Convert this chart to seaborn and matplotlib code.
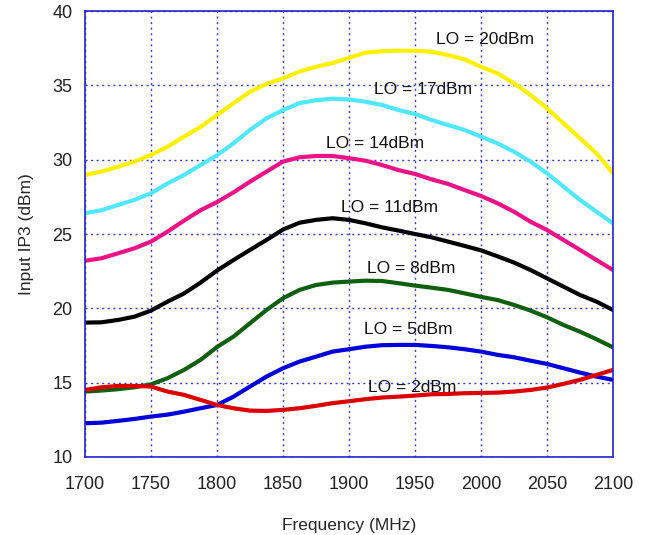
import pandas as pd
import seaborn as sns
import matplotlib.pyplot as plt

# frequency points, every 12.5 MHz
freq = [1700 + 12.5 * i for i in range(33)]

lo_20 = [28.97, 29.2, 29.53, 29.87, 30.32, 30.87, 31.55, 32.2, 33.0, 33.8, 34.57,
         35.1, 35.47, 35.92, 36.25, 36.5, 36.85, 37.2, 37.3, 37.33, 37.33, 37.26,
         37.04, 36.75, 36.25, 35.81, 35.14, 34.35, 33.46, 32.45, 31.44, 30.43, 29.09]
lo_17 = [26.4, 26.6, 26.95, 27.3, 27.74, 28.4, 28.97, 29.64, 30.3, 31.1, 32.0,
         32.78, 33.34, 33.8, 34.0, 34.1, 34.05, 33.9, 33.68, 33.34, 33.07, 32.67,
         32.33, 32.0, 31.55, 31.1, 30.54, 29.87, 29.09, 28.19, 27.29, 26.5, 25.72]
lo_14 = [23.2, 23.37, 23.7, 24.04, 24.49, 25.16, 25.9, 26.6, 27.15, 27.8, 28.52,
         29.2, 29.87, 30.16, 30.25, 30.25, 30.1, 29.93, 29.64, 29.3, 29.04, 28.68,
         28.37, 27.96, 27.56, 27.07, 26.5, 25.83, 25.27, 24.6, 23.93, 23.25, 22.58]
lo_11 = [19.04, 19.06, 19.22, 19.44, 19.85, 20.45, 21.0, 21.73, 22.54, 23.25, 23.93,
         24.6, 25.3, 25.76, 25.95, 26.06, 25.95, 25.72, 25.45, 25.23, 25.0, 24.78,
         24.49, 24.2, 23.9, 23.5, 23.08, 22.58, 22.02, 21.46, 20.9, 20.45, 19.89]
lo_8 = [14.4, 14.47, 14.56, 14.69, 14.89, 15.3, 15.86, 16.53, 17.4, 18.1, 19.0,
        19.89, 20.68, 21.24, 21.57, 21.73, 21.8, 21.86, 21.84, 21.69, 21.53, 21.39,
        21.24, 21.01, 20.77, 20.56, 20.23, 19.85, 19.4, 18.88, 18.43, 17.92, 17.38]
lo_5 = [12.27, 12.31, 12.43, 12.56, 12.72, 12.85, 13.05, 13.28, 13.5, 14.06, 14.74,
        15.41, 15.97, 16.42, 16.75, 17.09, 17.25, 17.42, 17.52, 17.54, 17.54, 17.47,
        17.38, 17.25, 17.09, 16.87, 16.71, 16.48, 16.26, 15.97, 15.68, 15.41, 15.19]
lo_2 = [14.51, 14.69, 14.78, 14.78, 14.74, 14.4, 14.18, 13.84, 13.5, 13.28, 13.12,
        13.1, 13.17, 13.28, 13.44, 13.62, 13.75, 13.89, 14.0, 14.06, 14.13, 14.22,
        14.24, 14.29, 14.31, 14.33, 14.4, 14.51, 14.67, 14.92, 15.19, 15.52, 15.86]

series_names = ["LO = 20dBm", "LO = 17dBm", "LO = 14dBm", "LO = 11dBm",
                "LO = 8dBm", "LO = 5dBm", "LO = 2dBm"]
series_vals = [lo_20, lo_17, lo_14, lo_11, lo_8, lo_5, lo_2]
colors = ["#fff000", "#4fe8ff", "#ee1187", "#000000",
          "#0e600e", "#0000dd", "#dd0000"]

# label anchor positions (data coords)
label_x = [2003, 1956, 1920, 1931, 1947, 1945, 1948]
label_y = [38.1, 34.7, 31.1, 26.8, 22.7, 18.6, 14.7]

rows = []
for name, vals in zip(series_names, series_vals):
    for f, v in zip(freq, vals):
        rows.append((f, v, name))
df = pd.DataFrame(rows, columns=["Frequency", "IIP3", "LO"])

sns.set_style("white")
plt.rcParams['font.family'] = ['Liberation Sans', 'DejaVu Sans']

fig = plt.figure(figsize=(6.49, 5.35), dpi=100)
ax = fig.add_axes([0.131, 0.1458, 0.8135, 0.8336])

sns.lineplot(data=df, x="Frequency", y="IIP3", hue="LO",
             palette=dict(zip(series_names, colors)), hue_order=series_names,
             linewidth=3.0, legend=False, ax=ax)

for name, x, y in zip(series_names, label_x, label_y):
    ax.text(x, y, name, ha="center", va="center", fontsize=12.5, color="#111111")

ax.set_xlim(1700, 2100)
ax.set_ylim(10, 40)
ax.set_xticks(range(1700, 2101, 50))
ax.set_yticks(range(10, 41, 5))
ax.grid(True, color="#3a3aee", linestyle=(0, (1.5, 2.5)), linewidth=1)
ax.tick_params(length=0, labelsize=13, colors="#222222")
ax.tick_params(axis="x", pad=14)
ax.tick_params(axis="y", pad=9)
for s in ax.spines.values():
    s.set_color("#2222cc")
    s.set_linewidth(1.2)

ax.set_xlabel("Frequency (MHz)", fontsize=12.5, labelpad=18)
ax.set_ylabel("Input IP3 (dBm)", fontsize=12.5, labelpad=13)

fig.savefig("out.png", dpi=100)
plt.close()
